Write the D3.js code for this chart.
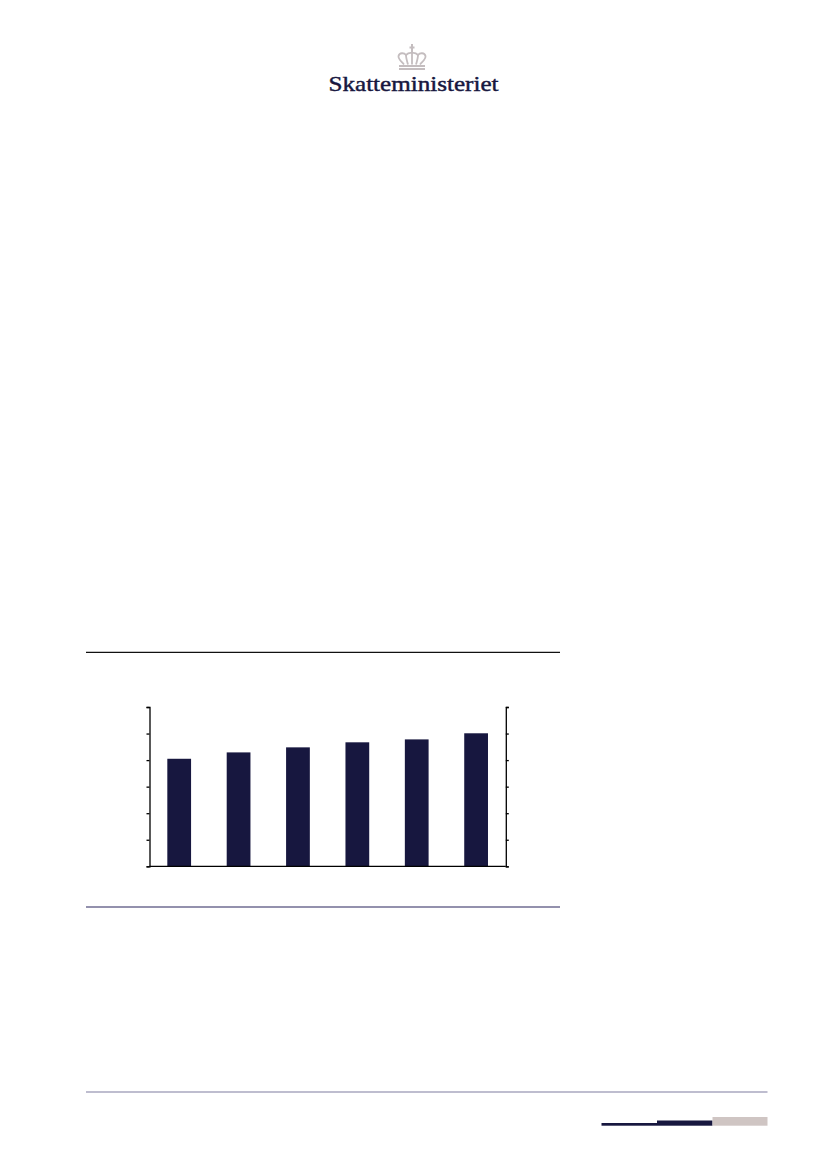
<!DOCTYPE html>
<html><head><meta charset="utf-8">
<script src="https://cdn.jsdelivr.net/npm/d3@7"></script>
<style>html,body{margin:0;padding:0;background:#fff}svg{display:block}</style>
</head><body><svg id="c" width="827" height="1169"></svg>
<script>
const categories = ["1","2","3","4","5","6"];
const values = [40.5,42.9,44.8,46.7,47.8,50.1];
const yTicks = [0,10,20,30,40,50,60];
const navy = "#17173f";
const svg = d3.select("#c");

// header logo
const logo = svg.append("g");
logo.append("text").attr("x",413.5).attr("y",91).attr("text-anchor","middle")
  .attr("font-family","Liberation Serif").attr("font-size",22)
  .attr("stroke",navy).attr("stroke-width",0.45)
  .attr("textLength",170).attr("lengthAdjust","spacingAndGlyphs").attr("fill",navy).text("Skatteministeriet");
const crown = logo.append("g").attr("fill","none").attr("stroke","#c4bdbf").attr("stroke-width",1.8);
crown.append("path").attr("d","M412 44V53M409.5 47.5H414.5").attr("stroke-width",2);
crown.append("path").attr("d","M404 64.5C401 61 398 59 398.5 56C399.5 52.5 404 52.5 406 55C408 53 410 52.5 412 53C414 52.5 416 53 418 55C420 52.5 424.5 52.5 425.5 56C426 59 423 61 420 64.5");
crown.append("path").attr("d","M408 64.5C407 61 406 58 406 55M416 64.5C417 61 418 58 418 55M412 53V64.5");
crown.append("path").attr("d","M399 66H425M399 69H425").attr("stroke-width",2);

// rules
const rule=(x1,x2,y,c,w)=>svg.append("line").attr("x1",x1).attr("x2",x2).attr("y1",y).attr("y2",y).attr("stroke",c).attr("stroke-width",w);
rule(86,560,652.3,"#111",1.3);
rule(86,560,907,"#6f6d92",1.6);
rule(86,767.5,1092,"#a9a7bf",1.5);

// chart
const x0=149.5,x1=505.8,yB=866.3,yT=707;
const x=d3.scaleBand().domain(categories).range([x0,x1]).paddingInner(0.6).paddingOuter(0.3);
const y=d3.scaleLinear().domain([0,60]).range([yB,yT]);
svg.append("g").selectAll("rect").data(values).join("rect")
  .attr("x",(d,i)=>x(categories[i])).attr("width",x.bandwidth())
  .attr("y",d=>y(d)).attr("height",d=>yB-y(d)).attr("fill",navy);
const styleAxis=g=>{g.selectAll("text").remove();g.selectAll("path,line").attr("stroke","#000").attr("stroke-width",1.3);};
svg.append("g").attr("transform",`translate(${x0},0)`)
  .call(d3.axisLeft(y).tickValues(yTicks).tickSize(3).tickSizeOuter(3)).call(styleAxis);
svg.append("g").attr("transform",`translate(${x1},0)`)
  .call(d3.axisRight(y).tickValues(yTicks).tickSize(3).tickSizeOuter(3)).call(styleAxis);
svg.append("line").attr("x1",x0).attr("x2",x1).attr("y1",yB).attr("y2",yB).attr("stroke","#000").attr("stroke-width",1.3);

// footer decoration
const foot=[[601.5,657,1123,navy],[657,712.5,1120.5,navy],[712.5,767.5,1117,"#cfc5c3"]];
svg.append("g").selectAll("rect").data(foot).join("rect")
  .attr("x",d=>d[0]).attr("width",d=>d[1]-d[0]).attr("y",d=>d[2]).attr("height",d=>1125.7-d[2]).attr("fill",d=>d[3]);
</script></body></html>
